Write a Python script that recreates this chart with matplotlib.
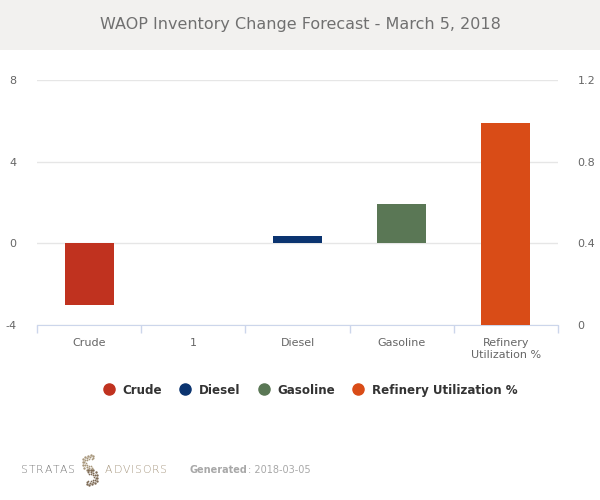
import numpy as np
import matplotlib.pyplot as plt
from matplotlib.lines import Line2D
from matplotlib.patches import Rectangle

# chart data
categories = ['Crude', '1', 'Diesel', 'Gasoline', 'Refinery\nUtilization %']
series_names = ['Crude', 'Diesel', 'Gasoline', 'Refinery Utilization %']
series_pos = [0, 2, 3, 4]
series_values = [-3.0, 0.34, 1.93, 0.99]
series_axis = ['left', 'left', 'left', 'right']
series_colors = ['#c0321f', '#0b3470', '#5a7755', '#d94c17']

left_ticks = [-4, 0, 4, 8]
right_ticks = [0, 0.4, 0.8, 1.2]
right_labels = ['0', '0.4', '0.8', '1.2']

title = 'WAOP Inventory Change Forecast - March 5, 2018'
generated = '2018-03-05'

W, H = 600, 500
fig = plt.figure(figsize=(6, 5), dpi=100)
fig.patch.set_facecolor('white')

# title band
fig.patches.append(Rectangle((0, 1 - 50 / H), 1, 50 / H, transform=fig.transFigure,
                             facecolor='#f2f1ef', edgecolor='none', zorder=0))
fig.text(0.5, 1 - 24 / H, title, ha='center', va='center', fontsize=11.5, color='#707070')

ax = fig.add_axes([37 / W, 1 - 325 / H, (558 - 37) / W, (325 - 80) / H])
ax2 = ax.twinx()

for name, x, v, side, c in zip(series_names, series_pos, series_values, series_axis, series_colors):
    target = ax if side == 'left' else ax2
    target.bar(x, v, width=0.47, color=c, zorder=3)

ax.set_xlim(-0.5, len(categories) - 0.5)
ax.set_ylim(left_ticks[0], left_ticks[-1])
ax2.set_ylim(right_ticks[0], right_ticks[-1])
ax.set_yticks(left_ticks)
ax.set_yticklabels([str(t) for t in left_ticks])
ax2.set_yticks(right_ticks)
ax2.set_yticklabels(right_labels)

ax.set_xticks(range(len(categories)))
ax.set_xticklabels(categories, fontsize=8, color='#666666', linespacing=1.3)
ax.set_xticks(np.arange(-0.5, len(categories), 1), minor=True)
ax.tick_params(axis='x', which='major', length=0, pad=9)
ax.tick_params(axis='x', which='minor', length=6, color='#ccd6eb', width=1)

ax.tick_params(axis='y', length=0, pad=15, labelsize=8, labelcolor='#666666')
ax2.tick_params(axis='y', length=0, pad=14, labelsize=8, labelcolor='#666666')

ax.grid(axis='y', color='#e6e6e6', linewidth=1, zorder=0)
ax.set_axisbelow(True)
for a in (ax, ax2):
    for s in a.spines.values():
        s.set_visible(False)
ax.spines['bottom'].set_visible(True)
ax.spines['bottom'].set_color('#ccd6eb')
ax.spines['bottom'].set_zorder(5)

# legend, laid out by hand so all labels share one baseline
renderer = fig.canvas.get_renderer()
lx, ly = 108.5, 389
for name, c in zip(series_names, series_colors):
    fig.add_artist(Line2D([lx / W], [1 - ly / H], marker='o', markersize=8,
                          markerfacecolor=c, markeredgecolor=c, linestyle='none',
                          transform=fig.transFigure))
    t = fig.text((lx + 13.5) / W, 1 - ly / H, name, ha='left', va='center_baseline',
                 fontsize=8.6, fontweight='bold', color='#333333')
    bb = t.get_window_extent(renderer)
    lx = bb.x1 + 23.5

# footer logo text with letter spacing
def spaced(x0, y, text, track, color):
    x = x0
    for ch in text:
        t = fig.text(x / W, 1 - y / H, ch, ha='left', va='center',
                     fontsize=7.8, color=color, fontweight='light')
        x = t.get_window_extent(renderer).x1 + track

spaced(21, 470, 'STRATAS', 0.8, '#767676')
spaced(105, 470, 'ADVISORS', 0.8, '#a6967e')

# dotted logo mark
lg = fig.add_axes([81 / W, 1 - 486 / H, 18 / W, 32 / H])
lg.set_xlim(-1.2, 1.2)
lg.set_ylim(-1.9, 1.9)
lg.axis('off')
for r, n, sz in [(1.0, 11, 3.0), (0.75, 9, 2.2), (0.5, 7, 1.5)]:
    t = np.linspace(0.35 * np.pi, 1.6 * np.pi, n)
    lg.scatter(r * np.cos(t), 0.85 + r * np.sin(t) * 0.9, s=sz, color='#a8977c', lw=0)
    lg.scatter(-r * np.cos(t), -0.85 - r * np.sin(t) * 0.9, s=sz, color='#7d6a55', lw=0)

g = fig.text(190 / W, 1 - 470 / H, 'Generated', ha='left', va='center', fontsize=7,
             color='#a8a8a8', fontweight='bold')
gx = g.get_window_extent(renderer).x1
fig.text(gx / W, 1 - 470 / H, ': ' + generated, ha='left', va='center', fontsize=7,
         color='#a8a8a8')

fig.savefig('out.png', dpi=100)
